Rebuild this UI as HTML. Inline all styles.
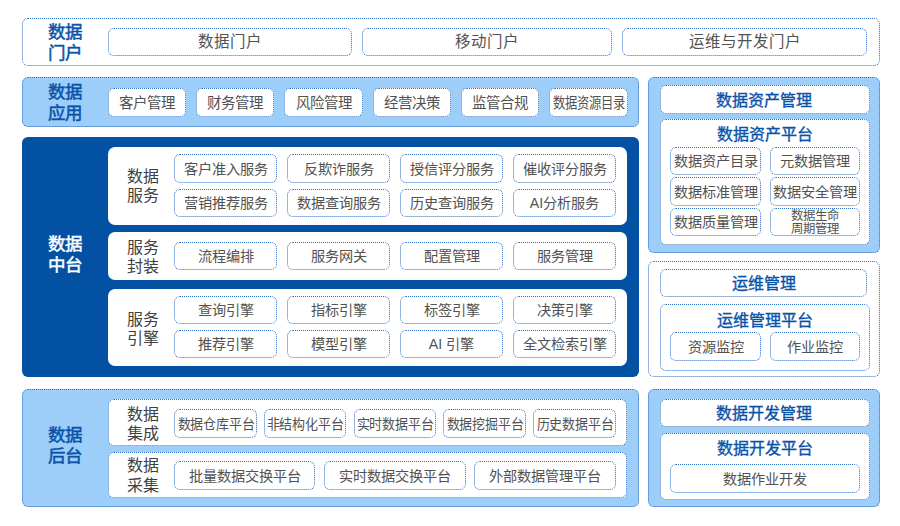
<!DOCTYPE html>
<html lang="zh-CN">
<head>
<meta charset="utf-8">
<title>数据中台架构</title>
<style>
html,body{margin:0;padding:0;background:#fff;}
body{width:900px;height:526px;position:relative;overflow:hidden;font-family:"Liberation Sans",sans-serif;color:#525252;}
.b{position:absolute;box-sizing:border-box;border:1px dotted #2a6ec6;border-radius:6px;}
.lb{background:#9dcef9;}
.w{background:#fff;}
.nb{border:none;border-radius:7px;}
.db{background:#0251a3;border:none;border-radius:6px;}
.t{display:flex;align-items:center;justify-content:center;font-size:14.2px;line-height:16px;white-space:nowrap;text-align:center;color:#525252;}
.f15{font-size:15.5px;}
.f145{font-size:14.5px;}
.small{font-size:12.4px;line-height:12.6px;padding-top:1.2px;}
.t.head{padding:2.6px 2px 0 0;}
.head{font-size:16px;font-weight:500;-webkit-text-stroke:0.35px #0852a8;color:#0852a8;}
.lab{position:absolute;width:120px;height:80px;display:flex;align-items:center;justify-content:center;text-align:center;white-space:nowrap;}
.big{font-size:17.5px;line-height:21px;font-weight:500;-webkit-text-stroke:0.5px currentColor;}
.mid{font-size:16px;line-height:19.6px;color:#404040;}
.blue{color:#0852a8;}
.white{color:#fff;}
</style>
</head>
<body>
<div class="b w" style="left:22px;top:18px;width:858px;height:48px;"></div>
<div class="lab big blue" style="left:5.0px;top:2.7px;"><span>数据<br>门户</span></div>
<div class="b w t f15" style="left:108px;top:28px;width:244px;height:28px;"><span>数据门户</span></div>
<div class="b w t f15" style="left:362px;top:28px;width:250px;height:28px;"><span>移动门户</span></div>
<div class="b w t f15" style="left:622px;top:28px;width:245px;height:28px;"><span>运维与开发门户</span></div>
<div class="b lb" style="left:22px;top:77px;width:617px;height:50px;"></div>
<div class="lab big blue" style="left:5.0px;top:62.7px;"><span>数据<br>应用</span></div>
<div class="b w t f145" style="left:108px;top:88px;width:78px;height:29px;"><span>客户管理</span></div>
<div class="b w t f145" style="left:196px;top:88px;width:78px;height:29px;"><span>财务管理</span></div>
<div class="b w t f145" style="left:284px;top:88px;width:79px;height:29px;"><span>风险管理</span></div>
<div class="b w t f145" style="left:373px;top:88px;width:78px;height:29px;"><span>经营决策</span></div>
<div class="b w t f145" style="left:461px;top:88px;width:78px;height:29px;"><span>监管合规</span></div>
<div class="b w t f145" style="left:549px;top:88px;width:79px;height:29px;"><span style="display:inline-block;transform:scaleX(0.85);">数据资源目录</span></div>
<div class="b db" style="left:22px;top:137px;width:617px;height:240px;"></div>
<div class="lab big white" style="left:5.0px;top:215.2px;"><span>数据<br>中台</span></div>
<div class="b w nb" style="left:108px;top:147px;width:519px;height:78px;"></div>
<div class="lab mid" style="left:83.4px;top:146.1px;"><span>数据<br>服务</span></div>
<div class="b w t " style="left:174px;top:154px;width:103px;height:29px;"><span>客户准入服务</span></div>
<div class="b w t " style="left:174px;top:189px;width:103px;height:28px;"><span>营销推荐服务</span></div>
<div class="b w t " style="left:287px;top:154px;width:103px;height:29px;"><span>反欺诈服务</span></div>
<div class="b w t " style="left:287px;top:189px;width:103px;height:28px;"><span>数据查询服务</span></div>
<div class="b w t " style="left:400px;top:154px;width:103px;height:29px;"><span>授信评分服务</span></div>
<div class="b w t " style="left:400px;top:189px;width:103px;height:28px;"><span>历史查询服务</span></div>
<div class="b w t " style="left:513px;top:154px;width:103px;height:29px;"><span>催收评分服务</span></div>
<div class="b w t " style="left:513px;top:189px;width:103px;height:28px;"><span>AI分析服务</span></div>
<div class="b w nb" style="left:108px;top:232px;width:519px;height:48px;"></div>
<div class="lab mid" style="left:83.4px;top:217.1px;"><span>服务<br>封装</span></div>
<div class="b w t " style="left:174px;top:242px;width:103px;height:28px;"><span>流程编排</span></div>
<div class="b w t " style="left:287px;top:242px;width:103px;height:28px;"><span>服务网关</span></div>
<div class="b w t " style="left:400px;top:242px;width:103px;height:28px;"><span>配置管理</span></div>
<div class="b w t " style="left:513px;top:242px;width:103px;height:28px;"><span>服务管理</span></div>
<div class="b w nb" style="left:108px;top:289px;width:519px;height:77px;"></div>
<div class="lab mid" style="left:83.4px;top:289.1px;"><span>服务<br>引擎</span></div>
<div class="b w t " style="left:174px;top:296px;width:103px;height:28px;"><span>查询引擎</span></div>
<div class="b w t " style="left:174px;top:330px;width:103px;height:28px;"><span>推荐引擎</span></div>
<div class="b w t " style="left:287px;top:296px;width:103px;height:28px;"><span>指标引擎</span></div>
<div class="b w t " style="left:287px;top:330px;width:103px;height:28px;"><span>模型引擎</span></div>
<div class="b w t " style="left:400px;top:296px;width:103px;height:28px;"><span>标签引擎</span></div>
<div class="b w t " style="left:400px;top:330px;width:103px;height:28px;"><span>AI 引擎</span></div>
<div class="b w t " style="left:513px;top:296px;width:103px;height:28px;"><span>决策引擎</span></div>
<div class="b w t " style="left:513px;top:330px;width:103px;height:28px;"><span>全文检索引擎</span></div>
<div class="b lb" style="left:22px;top:389px;width:617px;height:118px;"></div>
<div class="lab big blue" style="left:5.0px;top:406.2px;"><span>数据<br>后台</span></div>
<div class="b w" style="left:108px;top:399px;width:519px;height:47px;"></div>
<div class="lab mid" style="left:83.4px;top:384.1px;"><span>数据<br>集成</span></div>
<div class="b w t " style="left:174px;top:409px;width:83px;height:29px;"><span style="display:inline-block;transform:scaleX(0.915);">数据仓库平台</span></div>
<div class="b w t " style="left:264px;top:409px;width:82px;height:29px;"><span style="display:inline-block;transform:scaleX(0.915);">非结构化平台</span></div>
<div class="b w t " style="left:354px;top:409px;width:82px;height:29px;"><span style="display:inline-block;transform:scaleX(0.915);">实时数据平台</span></div>
<div class="b w t " style="left:443px;top:409px;width:83px;height:29px;"><span style="display:inline-block;transform:scaleX(0.915);">数据挖掘平台</span></div>
<div class="b w t " style="left:533px;top:409px;width:83px;height:29px;"><span style="display:inline-block;transform:scaleX(0.915);">历史数据平台</span></div>
<div class="b w" style="left:108px;top:452px;width:519px;height:46px;"></div>
<div class="lab mid" style="left:83.4px;top:435.6px;"><span>数据<br>采集</span></div>
<div class="b w t " style="left:174px;top:461px;width:141px;height:29px;"><span>批量数据交换平台</span></div>
<div class="b w t " style="left:324px;top:461px;width:142px;height:29px;"><span>实时数据交换平台</span></div>
<div class="b w t " style="left:474px;top:461px;width:142px;height:29px;"><span>外部数据管理平台</span></div>
<div class="b lb" style="left:648px;top:77px;width:232px;height:176px;"></div>
<div class="b w t head" style="left:660px;top:85px;width:210px;height:29px;"><span>数据资产管理</span></div>
<div class="b w" style="left:660px;top:119px;width:210px;height:126px;"></div>
<div class="lab head blue" style="left:704.5px;top:93.19999999999999px;"><span>数据资产平台</span></div>
<div class="b w t " style="left:670px;top:147px;width:91px;height:28px;"><span>数据资产目录</span></div>
<div class="b w t " style="left:770px;top:147px;width:90px;height:28px;"><span>元数据管理</span></div>
<div class="b w t " style="left:670px;top:177px;width:91px;height:29px;"><span>数据标准管理</span></div>
<div class="b w t " style="left:770px;top:177px;width:90px;height:29px;"><span>数据安全管理</span></div>
<div class="b w t " style="left:670px;top:208px;width:91px;height:28px;"><span>数据质量管理</span></div>
<div class="b w t small" style="left:770px;top:208px;width:90px;height:28px;"><span>数据生命<br>周期管理</span></div>
<div class="b w" style="left:648px;top:261px;width:232px;height:116px;"></div>
<div class="b w t head" style="left:660px;top:269px;width:207px;height:28px;padding-right:0;"><span>运维管理</span></div>
<div class="b w" style="left:660px;top:304px;width:210px;height:67px;"></div>
<div class="lab head blue" style="left:704.5px;top:278.7px;"><span>运维管理平台</span></div>
<div class="b w t " style="left:670px;top:332px;width:91px;height:29px;"><span>资源监控</span></div>
<div class="b w t " style="left:770px;top:332px;width:90px;height:29px;"><span>作业监控</span></div>
<div class="b lb" style="left:648px;top:389px;width:232px;height:118px;"></div>
<div class="b w t head" style="left:660px;top:399px;width:210px;height:28px;"><span>数据开发管理</span></div>
<div class="b w" style="left:660px;top:433px;width:210px;height:67px;"></div>
<div class="lab head blue" style="left:704.5px;top:407.2px;"><span>数据开发平台</span></div>
<div class="b w t " style="left:670px;top:464px;width:190px;height:29px;"><span>数据作业开发</span></div>
</body>
</html>
